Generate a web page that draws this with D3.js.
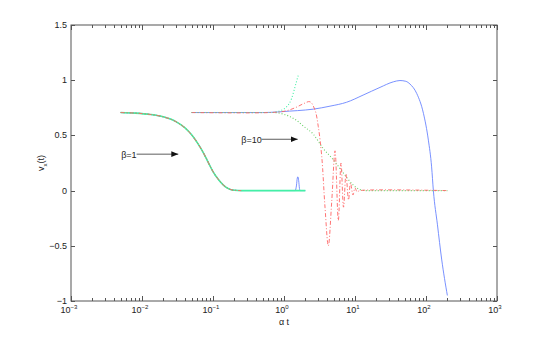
<!DOCTYPE html>
<html><head><meta charset="utf-8">
<script src="https://cdn.jsdelivr.net/npm/d3@7"></script>
<style>body{margin:0;background:#fff}svg{display:block}text{font-family:"Liberation Sans",Arial,sans-serif;fill:#222}</style>
</head><body><svg id="c" width="548" height="339"></svg>
<script>
// ---- data ----
const yTicks = [-1, -0.5, 0, 0.5, 1, 1.5];
const yTickLabels = ["\u22121", "\u22120.5", "0", "0.5", "1", "1.5"];
const xTickExps = [-3, -2, -1, 0, 1, 2, 3];
const xLabel = "\u03b1 t";
const yLabel = "v";
// beta = 1 group
const b1Sigmoid = [[0.005,0.707],[0.008,0.702],[0.013,0.69],[0.02,0.668],[0.03,0.625],[0.04,0.57],[0.05,0.505],[0.06,0.435],[0.07,0.365],[0.08,0.295],[0.09,0.228],[0.1,0.172],[0.12,0.098],[0.14,0.05],[0.16,0.022],[0.18,0.008],[0.2,0.003],[0.25,0],[0.5,0],[1,0],[2,0]];
const b1Blue = [[0.005,0.707],[0.008,0.702],[0.013,0.69],[0.02,0.668],[0.03,0.625],[0.04,0.57],[0.05,0.505],[0.06,0.435],[0.07,0.365],[0.08,0.295],[0.09,0.228],[0.1,0.172],[0.12,0.098],[0.14,0.05],[0.16,0.022],[0.18,0.008],[0.2,0.003],[0.25,0],[0.5,0],[1,0],[1.44,0],[1.5,0.05],[1.54,0.115],[1.57,0.125],[1.61,0.09],[1.65,0.02],[1.68,0],[2,0]];
// beta = 10 group
const b10Blue = [[0.05,0.707],[0.5,0.707],[0.8,0.712],[1.2,0.72],[2.0,0.73],[2.6,0.738],[4.45,0.765],[7.6,0.80],[13,0.865],[22.5,0.935],[34.6,0.985],[43,0.997],[52,0.99],[59.5,0.965],[74,0.88],[92,0.70],[108,0.457],[120,0.215],[127,0],[145,-0.31],[166,-0.62],[200,-0.95]];
const b10Green = [[0.05,0.707],[0.7,0.707],[0.88,0.70],[1.22,0.67],[1.51,0.635],[1.87,0.585],[2.59,0.51],[3.58,0.38],[4.95,0.28],[6.84,0.16],[9.46,0.05],[11.7,0.01],[14,0],[200,0]];
const b10Cyan = [[0.05,0.707],[0.7,0.707],[0.79,0.714],[1.09,0.76],[1.28,0.835],[1.43,0.94],[1.59,1.046]];
const b10Red = [[0.05,0.707],[0.635,0.707],[1.03,0.72],[1.43,0.75],[1.85,0.785],[2.32,0.805],[2.73,0.73],[3.04,0.58],[3.40,0.31],[3.78,-0.15],[4.21,-0.50],[4.70,-0.10],[5.23,0.36],[5.82,-0.27],[6.35,0.25],[6.89,-0.15],[7.47,0.15],[8.10,-0.085],[8.64,0.07],[9.37,-0.04],[10.0,0.025],[10.7,-0.01],[11.7,0],[200,0]];
const annotations = [
  {label:"\u03b2=1", x0:0.0084, x1:0.0325, y:0.33},
  {label:"\u03b2=10", x0:0.485, x1:1.56, y:0.465}
];

// ---- drawing ----
const svg = d3.select("#c");
const x = d3.scaleLog().domain([1e-3, 1e3]).range([71, 497]);
const y = d3.scaleLinear().domain([-1, 1.5]).range([301, 25]);
const axisCol = "#555";

const line = d3.line().x(d => x(d[0])).y(d => y(d[1])).curve(d3.curveMonotoneX);
const lineCR = d3.line().x(d => x(d[0])).y(d => y(d[1])).curve(d3.curveCatmullRom.alpha(0.5));

function draw(data, color, dash, w, gen) {
  svg.append("path").datum(data).attr("d", gen || line).attr("fill", "none")
    .attr("stroke", color).attr("stroke-width", w || 1)
    .attr("stroke-dasharray", dash || null);
}
const BLUE = "#6a84ff", RED = "#ff6464", GREEN = "#66d066", CYAN = "#44f0a6";
const DOT = "1,2", DASHDOT = "4,2,1,2";

// beta = 1
draw(b1Blue, BLUE, null, 0.9);
draw(b1Sigmoid, CYAN, null, 1.6);
draw(b1Sigmoid.filter(d => d[0] <= 0.25), GREEN, DOT, 1.1);
draw(b1Sigmoid.filter(d => d[0] <= 0.25), RED, DASHDOT, 0.9);
// beta = 10
draw(b10Blue, BLUE, null, 0.9);
draw(b10Green, GREEN, DOT, 1.1);
draw(b10Cyan, CYAN, DOT, 1.1);
draw(b10Red, RED, DASHDOT, 0.9, lineCR);

// axes box
const g = svg.append("g");
g.append("rect").attr("x", 71).attr("y", 25).attr("width", 426).attr("height", 276)
  .attr("fill", "none").attr("stroke", axisCol).attr("stroke-width", 1);

// y ticks (inward, both sides)
yTicks.forEach((v, i) => {
  const yy = Math.round(y(v)) + 0.5;
  g.append("line").attr("x1", 71).attr("x2", 75).attr("y1", yy).attr("y2", yy).attr("stroke", axisCol);
  g.append("line").attr("x1", 497).attr("x2", 493).attr("y1", yy).attr("y2", yy).attr("stroke", axisCol);
  g.append("text").attr("x", 67).attr("y", y(v) + 3).attr("text-anchor", "end")
    .attr("font-size", 9).text(yTickLabels[i]);
});

// x ticks (major + minor, inward, bottom and top)
xTickExps.forEach(e => {
  const xx = Math.round(x(Math.pow(10, e))) + 0.5;
  g.append("line").attr("x1", xx).attr("x2", xx).attr("y1", 301).attr("y2", 296).attr("stroke", axisCol);
  g.append("line").attr("x1", xx).attr("x2", xx).attr("y1", 25).attr("y2", 30).attr("stroke", axisCol);
  const t = g.append("text").attr("x", x(Math.pow(10, e)) - 2).attr("y", 313).attr("text-anchor", "middle").attr("font-size", 9);
  t.append("tspan").text("10");
  t.append("tspan").attr("dy", -4).attr("font-size", 6).text(e < 0 ? "\u2212" + (-e) : String(e));
  if (e < 3) {
    for (let k = 2; k <= 9; k++) {
      const mx = Math.round(x(k * Math.pow(10, e))) + 0.5;
      g.append("line").attr("x1", mx).attr("x2", mx).attr("y1", 301).attr("y2", 298).attr("stroke", axisCol);
      g.append("line").attr("x1", mx).attr("x2", mx).attr("y1", 25).attr("y2", 28).attr("stroke", axisCol);
    }
  }
});

// axis labels
g.append("text").attr("x", 284).attr("y", 325).attr("text-anchor", "middle").attr("font-size", 9).text(xLabel);
const yl = g.append("text").attr("transform", "translate(44,163) rotate(-90)").attr("text-anchor", "middle").attr("font-size", 9);
yl.append("tspan").text(yLabel);
yl.append("tspan").attr("dy", 2.5).attr("font-size", 6).text("x");
yl.append("tspan").attr("dy", -2.5).text("(t)");

// annotations
svg.append("defs").append("marker").attr("id", "ah").attr("viewBox", "0 0 10 10")
  .attr("refX", 10).attr("refY", 5).attr("markerWidth", 7).attr("markerHeight", 7)
  .attr("markerUnits", "userSpaceOnUse").attr("orient", "auto")
  .append("path").attr("d", "M0,1 L10,5 L0,9 Z").attr("fill", "#111");
annotations.forEach(a => {
  svg.append("line").attr("x1", x(a.x0)).attr("x2", x(a.x1)).attr("y1", y(a.y)).attr("y2", y(a.y))
    .attr("stroke", "#333").attr("stroke-width", 0.8).attr("marker-end", "url(#ah)");
  svg.append("text").attr("x", x(a.x0)).attr("y", y(a.y) + 3.5).attr("text-anchor", "end")
    .attr("font-size", 9).text(a.label);
});
</script></body></html>
